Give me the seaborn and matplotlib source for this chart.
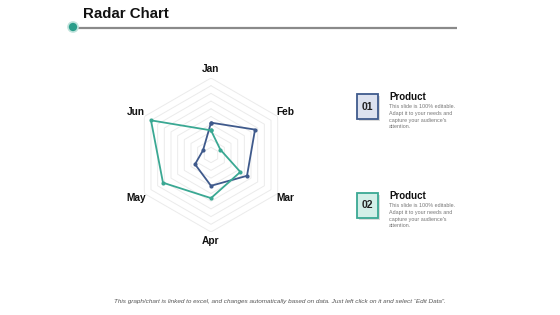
import numpy as np
import pandas as pd
import matplotlib.pyplot as plt
from matplotlib.patches import Rectangle, Circle
import seaborn as sns

months = ["Jan", "Feb", "Mar", "Apr", "May", "Jun"]
product_01 = [21, 33, 27, 20, 12, 6]
product_02 = [16, 7, 22, 28, 36, 45]
ring_levels = [5, 10, 15, 20, 25, 30, 35, 40, 45, 50]

blue = "#3f5a8c"
green = "#3aa893"

sns.set_style("white")
plt.rcParams["font.family"] = ["Liberation Sans", "DejaVu Sans"]

angles = np.linspace(0, 2 * np.pi, len(months), endpoint=False)
closed = np.append(angles, 2 * np.pi)

rows = []
for name, vals in [("01", product_01), ("02", product_02)]:
    vv = list(vals) + [vals[0]]
    for t, v in zip(closed, vv):
        rows.append({"theta": t, "value": v, "series": name})
df = pd.DataFrame(rows)

fig = plt.figure(figsize=(5.6, 3.15), dpi=100)

# background layer in pixel coords for slide decorations
bg = fig.add_axes([0, 0, 1, 1])
bg.set_xlim(0, 560)
bg.set_ylim(315, 0)
bg.axis("off")

bg.text(83, 14, "Radar Chart", fontsize=10.8, fontweight="bold", va="center", ha="left", color="#111111")
bg.plot([75, 457], [28, 28], color="#8a8a8a", lw=1.6, solid_capstyle="butt")
bg.add_patch(Circle((73, 27), 5.0, facecolor="#2a9d8a", edgecolor="#bfe3dc", lw=1.2, zorder=3))

boxes = [("01", 94, "#dde2ef", blue), ("02", 193, "#d3efe8", green)]
for label, y0, fc, ec in boxes:
    bg.add_patch(Rectangle((358.5, y0 + 1.5), 21, 25, facecolor="#dcdcdc", edgecolor="none", zorder=1))
    bg.add_patch(Rectangle((357, y0), 21, 25, facecolor=fc, edgecolor=ec, lw=1.3, zorder=2))
    bg.text(367.5, y0 + 12.5, label, fontsize=7.5, fontweight="bold", ha="center", va="center", color="#222222", zorder=3)
    bg.text(389, y0 + 3, "Product", fontsize=7, fontweight="bold", ha="left", va="center", color="#111111")
    bg.text(389, y0 + 10, "This slide is 100% editable.\nAdapt it to your needs and\ncapture your audience's\nattention.",
            fontsize=3.9, ha="left", va="top", color="#777777", linespacing=1.45)

bg.text(280, 301, "This graph/chart is linked to excel, and changes automatically based on data. "
        "Just left click on it and select \u201cEdit Data\u201d.",
        fontsize=4.6, style="italic", ha="center", va="center", color="#555555")

# radar
ax = fig.add_axes([211 / 560 - 77 / 560, (315 - 155) / 315 - 77 / 315, 154 / 560, 154 / 315], projection="polar")
ax.set_facecolor("none")
ax.set_theta_zero_location("N")
ax.set_theta_direction(-1)
ax.grid(False)
ax.spines["polar"].set_visible(False)
ax.set_xticks([])
ax.set_yticks([])

for lv in ring_levels:
    ax.plot(closed, [lv] * len(closed), color="#ebebeb", lw=0.7, zorder=1)

sns.lineplot(data=df, x="theta", y="value", hue="series", palette={"01": blue, "02": green},
             sort=False, estimator=None, marker="o", markersize=3, markeredgewidth=0,
             lw=1.3, legend=False, ax=ax, zorder=3)
ax.set_xlabel("")
ax.set_ylabel("")
ax.set_ylim(0, 50)

for t, m in zip(angles, months):
    ax.text(t, 56, m, fontsize=7.3, fontweight="bold", ha="center", va="center", color="#111111")

fig.savefig("out.png", dpi=100)
